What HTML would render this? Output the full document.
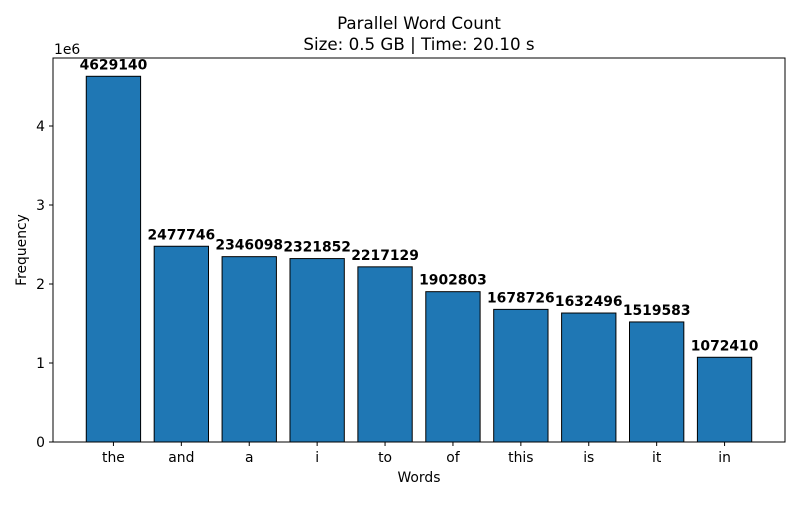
<!DOCTYPE html>
<html><head><meta charset="utf-8"><style>
body{margin:0;background:#fff;font-family:"Liberation Sans","DejaVu Sans",sans-serif;}
</style></head><body>
<svg width="800" height="500" xmlns="http://www.w3.org/2000/svg" font-family="DejaVu Sans, Liberation Sans, sans-serif">
<text x="419" y="29" text-anchor="middle" font-size="16.7">Parallel Word Count</text>
<text x="419" y="50" text-anchor="middle" font-size="16.7">Size: 0.5 GB | Time: 20.10 s</text>
<g id="plot"></g>
<rect x="53" y="58" width="732" height="384" fill="none" stroke="#000" stroke-width="1"/>
<text x="54" y="54" font-size="13.9">1e6</text>
<text x="419" y="482" text-anchor="middle" font-size="13.9">Words</text>
<text x="26" y="250" text-anchor="middle" font-size="13.9" transform="rotate(-90 26 250)">Frequency</text>
</svg>
<script>
const categories=["the","and","a","i","to","of","this","is","it","in"];
const values=[4629140,2477746,2346098,2321852,2217129,1902803,1678726,1632496,1519583,1072410];
const yTicks=[0,1,2,3,4];
const L=53,R=785,T=58,B=442;
const xMin=-0.89,xMax=categories.length-1+0.89;
const x=i=>L+(i-xMin)/(xMax-xMin)*(R-L);
const y=v=>B-v/1e6*79;
const g=document.getElementById('plot');
const ns="http://www.w3.org/2000/svg";
const unit=(R-L)/(xMax-xMin);
yTicks.forEach(t=>{
 const l=document.createElementNS(ns,'line');
 l.setAttribute('x1',L-4);l.setAttribute('x2',L);l.setAttribute('y1',y(t*1e6));l.setAttribute('y2',y(t*1e6));l.setAttribute('stroke','#000');
 
 
 g.appendChild(l);
 const tx=document.createElementNS(ns,'text');
 tx.setAttribute('x',L-8);tx.setAttribute('y',y(t*1e6)+5);tx.setAttribute('text-anchor','end');tx.setAttribute('font-size','13.9');
 tx.textContent=t;
 
 
 g.appendChild(tx);
});
categories.forEach((c,i)=>{
 const v=values[i],cx=x(i),w=unit*0.8;
 const r=document.createElementNS(ns,'rect');
 r.setAttribute('x',cx-w/2);r.setAttribute('y',y(v));r.setAttribute('width',w);r.setAttribute('height',B-y(v));
 r.setAttribute('fill','#1f77b4');r.setAttribute('stroke','#000');r.setAttribute('stroke-width','1');
 
 
 g.appendChild(r);
 const lb=document.createElementNS(ns,'text');
 lb.setAttribute('x',cx);lb.setAttribute('y',y(v)-7);lb.setAttribute('text-anchor','middle');lb.setAttribute('font-size','13.9');lb.setAttribute('font-weight','bold');
 lb.textContent=v;
 
 
 g.appendChild(lb);
 const tk=document.createElementNS(ns,'line');
 tk.setAttribute('x1',cx);tk.setAttribute('x2',cx);tk.setAttribute('y1',B);tk.setAttribute('y2',B+4);tk.setAttribute('stroke','#000');
 
 
 g.appendChild(tk);
 const xl=document.createElementNS(ns,'text');
 xl.setAttribute('x',cx);xl.setAttribute('y',B+20);xl.setAttribute('text-anchor','middle');xl.setAttribute('font-size','13.9');
 xl.textContent=c;
 
 
 g.appendChild(xl);
});
</script>
</body></html>
